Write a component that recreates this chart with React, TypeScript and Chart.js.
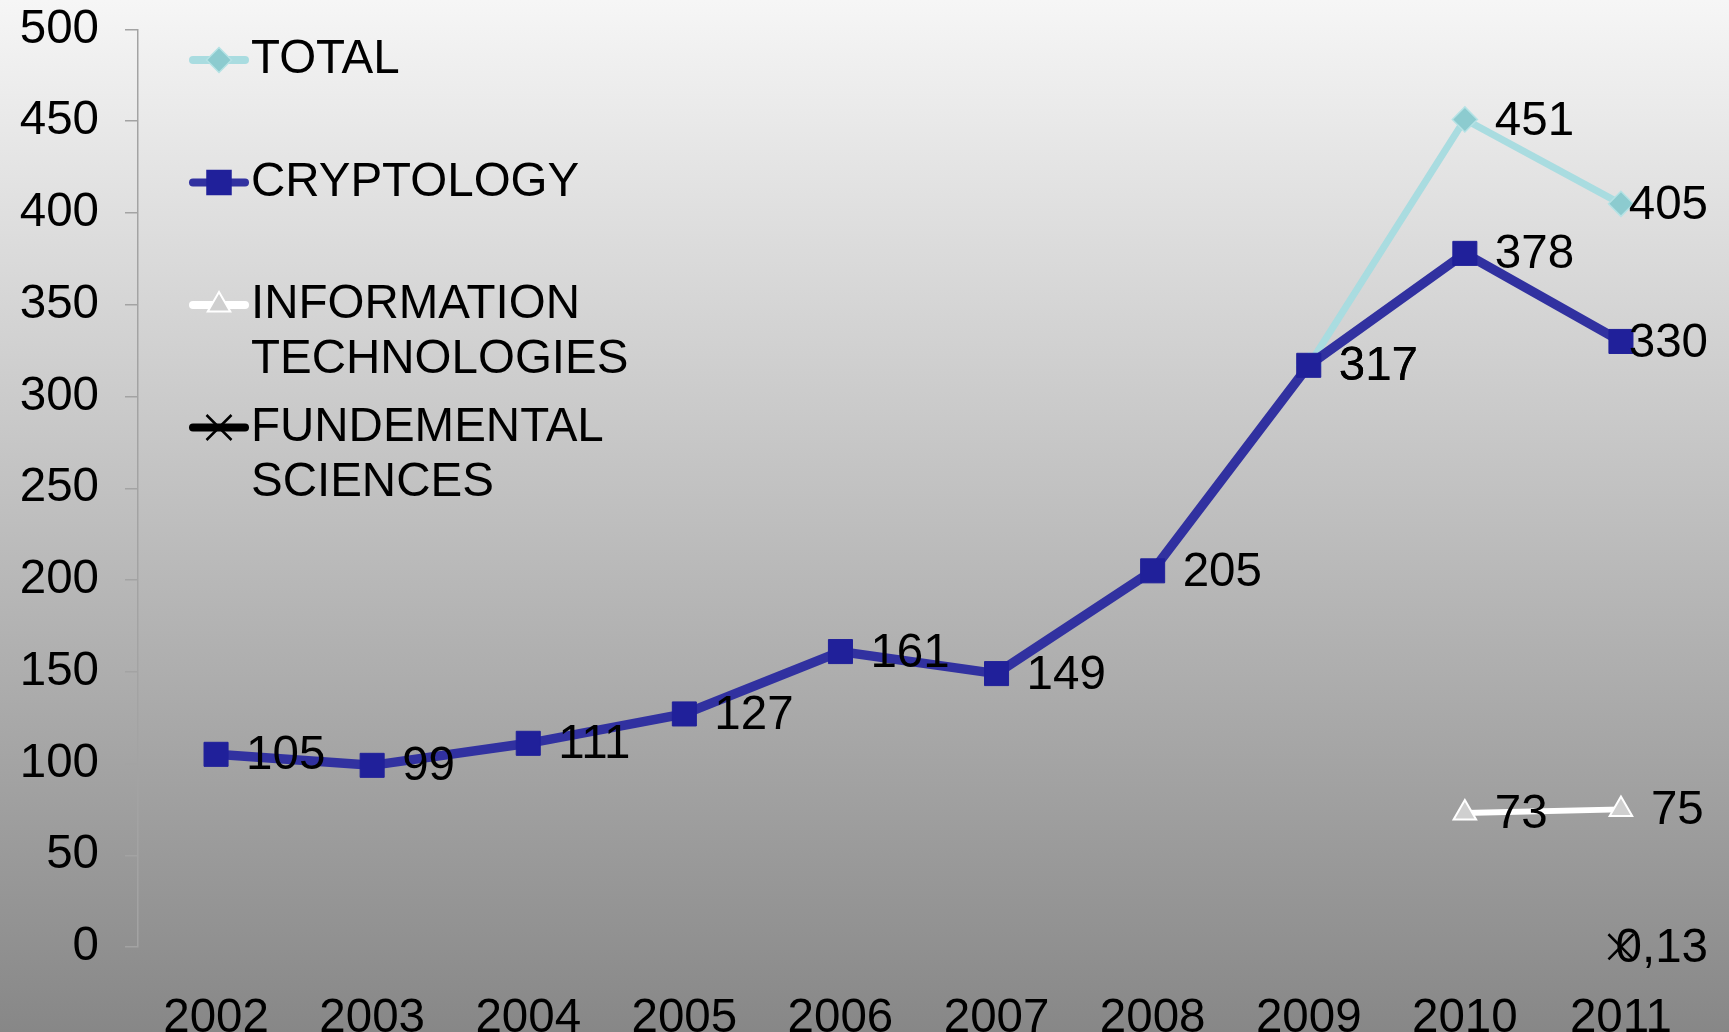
import React, { useEffect, useRef } from "react";
import { Chart, registerables } from "chart.js";

Chart.register(...registerables);

const years = ["2002", "2003", "2004", "2005", "2006", "2007", "2008", "2009", "2010", "2011"];
const total = [null, null, null, null, null, null, null, 317, 451, 405];
const cryptology = [105, 99, 111, 127, 161, 149, 205, 317, 378, 330];
const infoTech = [null, null, null, null, null, null, null, null, 73, 75];
const fundSciences = [null, null, null, null, null, null, null, null, null, 0.13];
const yTicks = [0, 50, 100, 150, 200, 250, 300, 350, 400, 450, 500];

const seriesNames = ["TOTAL", "CRYPTOLOGY", "INFORMATION\nTECHNOLOGIES", "FUNDEMENTAL\nSCIENCES"];

const FONT = "'Liberation Sans', Arial, sans-serif";
const FS = 47.5;

const bgPlugin = {
  id: "bgGradient",
  beforeDraw(chart: any) {
    const ctx = chart.ctx;
    const g = ctx.createLinearGradient(0, 0, 0, chart.height);
    g.addColorStop(0, "#f6f6f6");
    g.addColorStop(1, "#878787");
    ctx.save();
    ctx.fillStyle = g;
    ctx.fillRect(0, 0, chart.width, chart.height);
    ctx.restore();
  },
};

function drawMarker(ctx: CanvasRenderingContext2D, style: string, x: number, y: number, fill: string, stroke: string) {
  ctx.save();
  ctx.fillStyle = fill;
  ctx.strokeStyle = stroke;
  ctx.lineWidth = 1.5;
  ctx.beginPath();
  if (style === "rectRot") {
    const r = 12.5;
    ctx.moveTo(x - r, y);
    ctx.lineTo(x, y - r);
    ctx.lineTo(x + r, y);
    ctx.lineTo(x, y + r);
    ctx.closePath();
    ctx.fill();
    ctx.stroke();
  } else if (style === "rect") {
    const s = 12;
    ctx.rect(x - s, y - s, 2 * s, 2 * s);
    ctx.fill();
    ctx.stroke();
  } else if (style === "triangle") {
    const r = 13;
    ctx.moveTo(x, y - r);
    ctx.lineTo(x + r * 0.866, y + r * 0.5);
    ctx.lineTo(x - r * 0.866, y + r * 0.5);
    ctx.closePath();
    ctx.fill();
    ctx.lineWidth = 2;
    ctx.stroke();
  } else if (style === "crossRot") {
    const r = 12.5;
    ctx.lineWidth = 2.5;
    ctx.moveTo(x - r, y - r);
    ctx.lineTo(x + r, y + r);
    ctx.moveTo(x + r, y - r);
    ctx.lineTo(x - r, y + r);
    ctx.stroke();
  }
  ctx.restore();
}

const legendPlugin = {
  id: "customLegend",
  afterDraw(chart: any) {
    const ctx = chart.ctx;
    ctx.save();
    ctx.font = `${FS}px ${FONT}`;
    ctx.textBaseline = "middle";
    ctx.textAlign = "left";
    chart.data.datasets.forEach((ds: any, i: number) => {
      const y = 60 + i * 122.5;
      ctx.save();
      ctx.strokeStyle = ds.borderColor;
      ctx.lineWidth = 8;
      ctx.lineCap = "round";
      ctx.beginPath();
      ctx.moveTo(193, y);
      ctx.lineTo(245, y);
      ctx.stroke();
      ctx.restore();
      drawMarker(ctx, ds.pointStyle, 219, y, ds.pointBackgroundColor, ds.pointBorderColor);
      ctx.fillStyle = "#000";
      String(ds.label)
        .split("\n")
        .forEach((line: string, k: number) => ctx.fillText(line, 251, y + k * 55));
    });
    ctx.restore();
  },
};

const labelsPlugin = {
  id: "dataLabels",
  afterDatasetsDraw(chart: any) {
    const ctx = chart.ctx;
    const rightLimit = 1708;
    ctx.save();
    ctx.font = `${FS}px ${FONT}`;
    ctx.textBaseline = "middle";
    ctx.textAlign = "left";
    ctx.fillStyle = "#000";
    chart.data.datasets.forEach((ds: any, di: number) => {
      const meta = chart.getDatasetMeta(di);
      meta.data.forEach((pt: any, idx: number) => {
        const v = ds.data[idx];
        if (v === null || v === undefined) return;
        const txt = String(v).replace(".", ",");
        const w = ctx.measureText(txt).width;
        let x = pt.x + 30;
        if (x + w > rightLimit) x = rightLimit - w;
        ctx.fillText(txt, x, pt.y + 2);
      });
    });
    ctx.restore();
  },
};

export default function App() {
  const ref = useRef<HTMLCanvasElement>(null);
  useEffect(() => {
    if (!ref.current) return;
    const chart = new Chart(ref.current, {
      type: "line",
      data: {
        labels: years,
        datasets: [
          {
            label: seriesNames[0],
            data: total,
            borderColor: "#a9dce0",
            borderWidth: 7,
            pointStyle: "rectRot",
            pointRadius: 12.5,
            pointBackgroundColor: "#8ccbcf",
            pointBorderColor: "#b5e2e5",
            pointBorderWidth: 1.5,
            order: 3,
            clip: false,
          } as any,
          {
            label: seriesNames[1],
            data: cryptology,
            borderColor: "#3131a0",
            borderWidth: 9.5,
            pointStyle: "rect",
            pointRadius: 17,
            pointBackgroundColor: "#20209a",
            pointBorderColor: "#20209a",
            pointBorderWidth: 1,
            order: 1,
            clip: false,
          },
          {
            label: seriesNames[2],
            data: infoTech,
            borderColor: "#ffffff",
            borderWidth: 6,
            pointStyle: "triangle",
            pointRadius: 13,
            pointBackgroundColor: "#cfcfcf",
            pointBorderColor: "#ffffff",
            pointBorderWidth: 2,
            order: 2,
            clip: false,
          },
          {
            label: seriesNames[3],
            data: fundSciences,
            borderColor: "#000000",
            borderWidth: 8,
            pointStyle: "crossRot",
            pointRadius: 17.7,
            pointBackgroundColor: "#000000",
            pointBorderColor: "#000000",
            pointBorderWidth: 2.5,
            order: 0,
            clip: false,
          },
        ] as any,
      },
      options: {
        responsive: false,
        animation: false,
        layout: { padding: { top: 29.5, right: 30, left: 0, bottom: 0 } },
        plugins: {
          legend: { display: false },
          tooltip: { enabled: false },
        },
        scales: {
          x: {
            type: "category",
            offset: true,
            grid: { display: false, drawTicks: false },
            border: { display: false },
            ticks: {
              color: "#000",
              font: { family: FONT, size: FS },
              padding: 43,
              maxRotation: 0,
              autoSkip: false,
            },
            afterFit(scale: any) {
              scale.height = 85;
            },
          },
          y: {
            min: yTicks[0],
            max: yTicks[yTicks.length - 1],
            grid: {
              display: true,
              drawOnChartArea: false,
              drawTicks: true,
              tickLength: 13,
              color: "#a3a3a3",
              lineWidth: 1.5,
            },
            border: { display: true, color: "#a3a3a3", width: 1.5 },
            ticks: {
              stepSize: 50,
              color: "#000",
              font: { family: FONT, size: FS },
              padding: 26,
            },
            afterBuildTicks(scale: any) {
              scale.ticks = yTicks.map((v) => ({ value: v }));
            },
            afterFit(scale: any) {
              scale.width = 138;
              scale.paddingTop = 0;
              scale.paddingBottom = 0;
            },
          },
        },
      },
      plugins: [bgPlugin, labelsPlugin, legendPlugin],
    });
    return () => chart.destroy();
  }, []);
  return (
    <div style={{ position: "fixed", left: 0, top: 0, width: 1729, height: 1032, overflow: "hidden" }}>
      <canvas ref={ref} width={1729} height={1032} style={{ display: "block" }} />
    </div>
  );
}
